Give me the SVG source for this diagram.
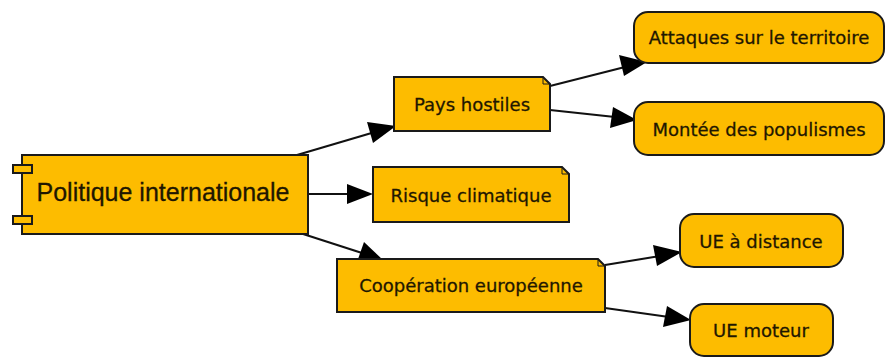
<svg xmlns="http://www.w3.org/2000/svg" width="885" height="358" viewBox="0 0 885 358">
<defs>
<style>
.box{fill:#FDBC00;stroke:#1a1a1a;stroke-width:2}
.t{font-family:"DejaVu Sans","Liberation Sans",sans-serif;font-size:18px;fill:#1f1700;stroke:#1f1700;stroke-width:0.3;text-anchor:middle;dominant-baseline:central}
.tm{font-family:"Liberation Sans",Arial,sans-serif;font-size:25px;fill:#1f1700;stroke:#1f1700;stroke-width:0.3;text-anchor:middle;dominant-baseline:central}
.e{stroke:#111;stroke-width:2.2;fill:none}
.ah{fill:#000}
</style>
</defs>
<rect width="885" height="358" fill="#fff"/>
<g id="connectors">
<line class="e" x1="297" y1="155" x2="375" y2="132"/>
<polygon class="ah" points="396,126 367,122 373,143"/>
<line class="e" x1="308" y1="194" x2="352" y2="194"/>
<polygon class="ah" points="373,194 347,184 347,204"/>
<line class="e" x1="300" y1="233" x2="362" y2="253"/>
<polygon class="ah" points="383,260 364,242 357,262"/>
<line class="e" x1="550" y1="86" x2="625" y2="67"/>
<polygon class="ah" points="647,62 619,55 624,76"/>
<line class="e" x1="550" y1="110" x2="615" y2="117"/>
<polygon class="ah" points="637,120 613,107 610,128"/>
<line class="e" x1="605" y1="265" x2="660" y2="256"/>
<polygon class="ah" points="682,252 653,245 657,266"/>
<line class="e" x1="605" y1="308" x2="669" y2="317"/>
<polygon class="ah" points="691,320 667,306 663,327"/>
</g>
<g id="politique">
<rect class="box" x="22" y="155" width="286" height="79"/>
<rect class="box" x="13" y="165" width="19" height="8"/>
<rect class="box" x="13" y="216" width="19" height="8"/>
<text class="tm" x="163" y="192">Politique internationale</text>
</g>
<g id="pays">
<path class="box" d="M394,77 H543 L550,84 V131 H394 Z"/>
<path d="M543,77 V84 H550" fill="none" stroke="#1a1a1a" stroke-width="1"/>
<text class="t" x="472" y="104">Pays hostiles</text>
</g>
<g id="risque">
<path class="box" d="M373,167 H562 L569,174 V222 H373 Z"/>
<path d="M562,167 V174 H569" fill="none" stroke="#1a1a1a" stroke-width="1"/>
<text class="t" x="471" y="195">Risque climatique</text>
</g>
<g id="cooperation">
<path class="box" d="M337,259 H598 L605,266 V312 H337 Z"/>
<path d="M598,259 V266 H605" fill="none" stroke="#1a1a1a" stroke-width="1"/>
<text class="t" x="471" y="285">Coopération européenne</text>
</g>
<g id="attaques">
<rect class="box" x="634" y="12" width="250" height="51" rx="14"/>
<text class="t" x="759" y="37">Attaques sur le territoire</text>
</g>
<g id="montee">
<rect class="box" x="634" y="102" width="250" height="53" rx="14"/>
<text class="t" x="759" y="129">Montée des populismes</text>
</g>
<g id="ue-distance">
<rect class="box" x="680" y="214" width="163" height="53" rx="14"/>
<text class="t" x="761" y="241">UE à distance</text>
</g>
<g id="ue-moteur">
<rect class="box" x="690" y="304" width="143" height="52" rx="14"/>
<text class="t" x="761" y="330">UE moteur</text>
</g>
</svg>
